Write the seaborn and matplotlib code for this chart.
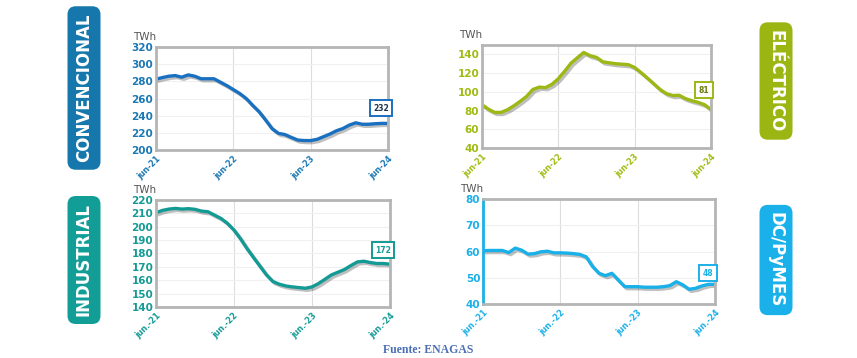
import numpy as np
import matplotlib.pyplot as plt
import matplotlib.patheffects as pe
import seaborn as sns

# monthly values jun-21 .. jun-24 (TWh, rolling 12 months)
months = list(range(37))

convencional = [282.5, 284.4, 286, 286.7, 284.8, 287.5, 286, 283, 283, 283, 279, 275, 270.4,
                265.8, 260, 252, 244.6, 235, 225, 219.4, 218, 214.7, 211.6, 211, 211, 212.4,
                215.5, 218.6, 222.4, 225, 229, 231.7, 230, 230, 230.6, 231, 231]
electrico = [86.2, 81.5, 78, 78, 80.8, 85, 89.8, 95, 102.5, 105, 104.5, 108, 114, 122, 130.6,
             136.4, 142, 138.6, 136.8, 132, 131, 130, 129.5, 129, 126, 120.5, 114.7, 108.6,
             102.5, 98, 96, 96.3, 92.7, 90.5, 88.7, 86.2, 81]
industrial = [210.5, 212.2, 213.2, 213.7, 213.2, 213.5, 213, 211.7, 211.2, 208.7, 206.2, 202.5,
              197.5, 191, 183.7, 177, 170.5, 164, 159, 157, 155.7, 155, 154.5, 154, 155, 157.5,
              160.7, 164, 166, 168, 171, 173.7, 174.2, 173.2, 172.5, 172.5, 172]
dc_pymes = [60.3, 60.4, 60.4, 60.4, 59.6, 61.3, 60.5, 59, 59.2, 59.9, 60.1, 59.5, 59.5, 59.4,
            59.2, 58.9, 58, 54.3, 51.7, 50.8, 51.7, 49.1, 46.6, 46.6, 46.6, 46.4, 46.4, 46.4,
            46.6, 47, 48.5, 47.3, 45.6, 46, 46.9, 47.5, 47.5]

xlabels_a = ['jun-21', 'jun-22', 'jun-23', 'jun-24']
xlabels_b = ['jun.-21', 'jun.-22', 'jun.-23', 'jun.-24']

sns.set_style('white')
plt.rcParams['font.family'] = ['DejaVu Sans']

fig = plt.figure(figsize=(8.57, 3.58), dpi=100)


def panel(rect, y, color, tick_color, ylim, yticks, xlabels, last_label, label_color, box_dy):
    ax = fig.add_axes(rect)
    sns.lineplot(x=months, y=y, ax=ax, color=color, lw=2.4,
                 path_effects=[pe.SimpleLineShadow(offset=(1.5, -1.5), alpha=0.25), pe.Normal()])
    ax.set_xlim(0, 36)
    ax.set_ylim(*ylim)
    ax.set_yticks(yticks)
    ax.set_xticks([0, 12, 24, 36])
    ax.set_xticklabels(xlabels, rotation=45, ha='right', rotation_mode='anchor')
    ax.tick_params(axis='x', labelsize=5.8, colors=tick_color, length=0, pad=3)
    ax.tick_params(axis='y', labelsize=7.5, colors=tick_color, length=0, pad=2)
    for t in ax.get_xticklabels() + ax.get_yticklabels():
        t.set_fontweight('bold')
    ax.grid(axis='x', color='#dddddd', lw=0.8)
    ax.grid(axis='y', color='#f0f0f0', lw=0.8)
    for s in ax.spines.values():
        s.set_color('#b5b5b5')
        s.set_linewidth(2)
    ax.text(-0.1, 1.05, 'TWh', transform=ax.transAxes, fontsize=7.5, color='#555555',
            ha='left', va='bottom')
    ax.annotate(last_label, xy=(36, y[-1]), xytext=(-5, box_dy), textcoords='offset points',
                ha='center', va='center', fontsize=5.5, fontweight='bold', color=label_color,
                bbox=dict(boxstyle='square,pad=0.45', fc='white', ec=color, lw=1.4),
                annotation_clip=False)
    return ax


panel([0.182, 0.581, 0.2707, 0.2877], convencional, '#1a70c0', '#1a78b4', (200, 320),
      range(200, 321, 20), xlabels_a, '232', '#1c3550', 11)
panel([0.5624, 0.5866, 0.2672, 0.2877], electrico, '#9cb814', '#a0bb10', (40, 150),
      range(40, 141, 20), xlabels_a, '81', '#6b7a10', 14)
panel([0.182, 0.1425, 0.273, 0.2989], industrial, '#149a94', '#149b95', (140, 220),
      range(140, 221, 10), xlabels_b, '172', '#149b95', 10)
ax4 = panel([0.5636, 0.1508, 0.2707, 0.2933], dc_pymes, '#1ab0e8', '#1bb0e8', (40, 80),
            range(40, 81, 10), xlabels_b, '48', '#1ab0e8', 8)
ax4.spines['left'].set_color('#1ab0e8')

side = [('CONVENCIONAL', 84, 88, 90, '#1677ad'),
        ('ELÉCTRICO', 776, 81, 270, '#9bb513'),
        ('INDUSTRIAL', 84, 260, 90, '#139d97'),
        ('DC/PyMES', 776, 260, 270, '#1ab1ea')]
for txt, px, py, rot, col in side:
    fig.text(px / 857, 1 - py / 358, txt, rotation=rot, ha='center', va='center',
             fontsize=12, fontweight='bold', color='white',
             bbox=dict(boxstyle='round,pad=0.45,rounding_size=0.5', fc=col, ec='none'))

fig.text(428 / 857, 1 - 350 / 358, 'Fuente: ENAGAS', ha='center', va='center',
         fontsize=8.5, fontweight='bold', color='#4a6fb5', family='Liberation Serif')

fig.savefig('out.png', dpi=100)
